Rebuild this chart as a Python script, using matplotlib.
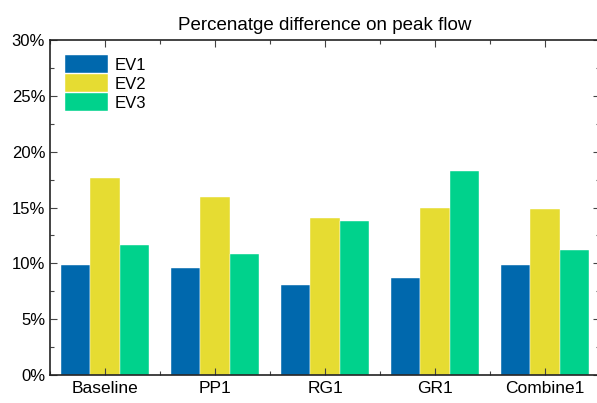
import numpy as np
import matplotlib.pyplot as plt
from matplotlib.ticker import MultipleLocator, PercentFormatter

plt.rcParams['font.family'] = ['Liberation Sans', 'DejaVu Sans']

categories = ['Baseline', 'PP1', 'RG1', 'GR1', 'Combine1']
series = ['EV1', 'EV2', 'EV3']
ev1 = [9.85, 9.55, 8.05, 8.7, 9.85]
ev2 = [17.6, 15.9, 14.05, 14.95, 14.85]
ev3 = [11.6, 10.85, 13.8, 18.25, 11.2]
colors = ['#0068ad', '#e6dc32', '#00d28c']

fig = plt.figure(figsize=(5.97, 4.03), dpi=100)
ax = fig.add_axes([50 / 597, 28 / 403, 550 / 597, 335 / 403])

x = np.arange(len(categories))
w = 0.8 / 3
for i, (name, vals) in enumerate(zip(series, [ev1, ev2, ev3])):
    ax.bar(x + (i - 1) * w, vals, width=w, color=colors[i], label=name,
           edgecolor='white', linewidth=0.3)

ax.set_xlim(-0.5, 4.5)
ax.set_ylim(0, 30)
ax.set_xticks(x)
ax.set_xticklabels(categories, fontsize=12.5)
ax.xaxis.set_minor_locator(MultipleLocator(0.5))
ax.yaxis.set_major_locator(MultipleLocator(5))
ax.yaxis.set_minor_locator(MultipleLocator(2.5))
ax.yaxis.set_major_formatter(PercentFormatter(decimals=0))
ax.tick_params(axis='y', labelsize=12)
ax.tick_params(which='both', direction='in', top=True, right=True, width=0.8, color='#444444')
ax.tick_params(which='major', length=5)
ax.tick_params(which='minor', length=3)
ax.tick_params(axis='x', which='major', pad=4)
ax.tick_params(axis='x', which='minor', top=True, bottom=True)
for s in ax.spines.values():
    s.set_linewidth(1.2)
    s.set_color('#222222')

ax.set_title('Percenatge difference on peak flow', fontsize=13.5, pad=7)
ax.legend(loc='upper left', frameon=False, fontsize=12, handlelength=2.6,
          handleheight=1.3, handletextpad=0.35, labelspacing=0.05,
          bbox_to_anchor=(0.0, 1.0))

fig.savefig('out.png', dpi=100)
